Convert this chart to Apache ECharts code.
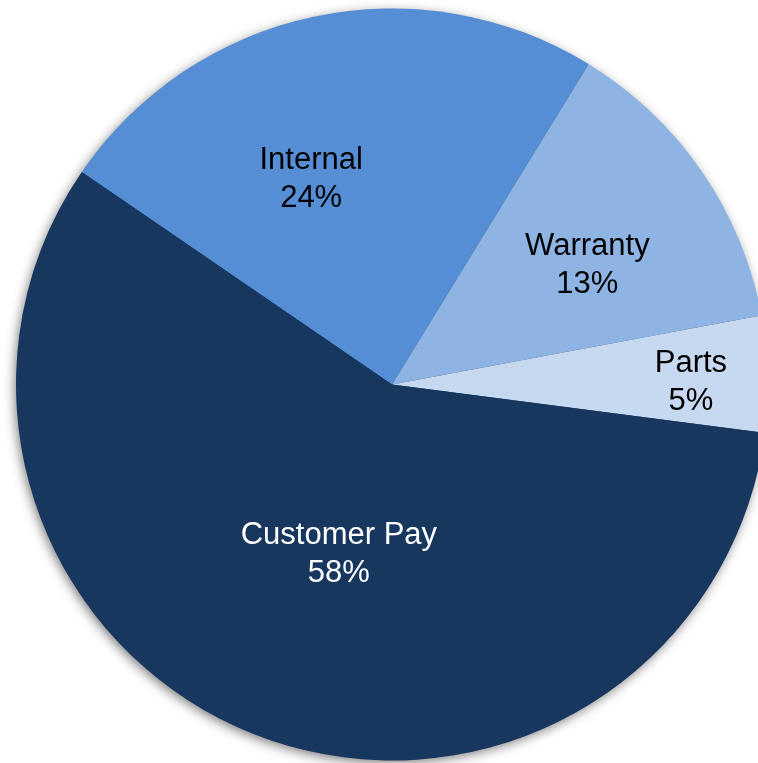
<!DOCTYPE html>
<html>
<head>
<meta charset="utf-8">
<script src="https://cdn.jsdelivr.net/npm/echarts@6/dist/echarts.min.js"></script>
<style>html,body{margin:0;padding:0;background:#fff}#c{width:758px;height:763px}</style>
</head>
<body>
<div id="c"></div>
<script>
const categories = ['Internal', 'Warranty', 'Parts', 'Customer Pay'];
const values = [24.2, 13.3, 5.0, 57.5];
const colors = ['#558ED5', '#8EB4E3', '#C6D9F1', '#17375E'];
const labelColors = ['#000000', '#000000', '#000000', '#FFFFFF'];
const labelOffsets = [[-41, -18], [38, -11], [108, 3], [15, -8]];

const chart = echarts.init(document.getElementById('c'), null, {renderer: 'canvas'});
chart.setOption({
  animation: false,
  backgroundColor: '#ffffff',
  series: [
    {
      type: 'pie',
      silent: true,
      z: 1,
      center: [392, 384.5],
      radius: 375,
      label: {show: false},
      labelLine: {show: false},
      itemStyle: {
        color: '#17375E',
        shadowBlur: 12,
        shadowOffsetX: -2,
        shadowOffsetY: 3,
        shadowColor: 'rgba(0,0,0,0.55)'
      },
      data: [{value: 1, name: 'bg'}]
    },
    {
      type: 'pie',
      z: 2,
      center: [392, 384.5],
      radius: 376,
      startAngle: 145.6,
      clockwise: true,
      percentPrecision: 0,
      labelLine: {show: false},
      label: {
        show: true,
        position: 'inside',
        formatter: '{b}\n{d}%',
        fontFamily: 'Liberation Sans, Arial, sans-serif',
        fontSize: 31,
        lineHeight: 38
      },
      itemStyle: {borderWidth: 0},
      data: categories.map((c, i) => ({
        name: c,
        value: values[i],
        itemStyle: {color: colors[i]},
        label: {color: labelColors[i], offset: labelOffsets[i]}
      }))
    }
  ]
});
</script>
</body>
</html>
